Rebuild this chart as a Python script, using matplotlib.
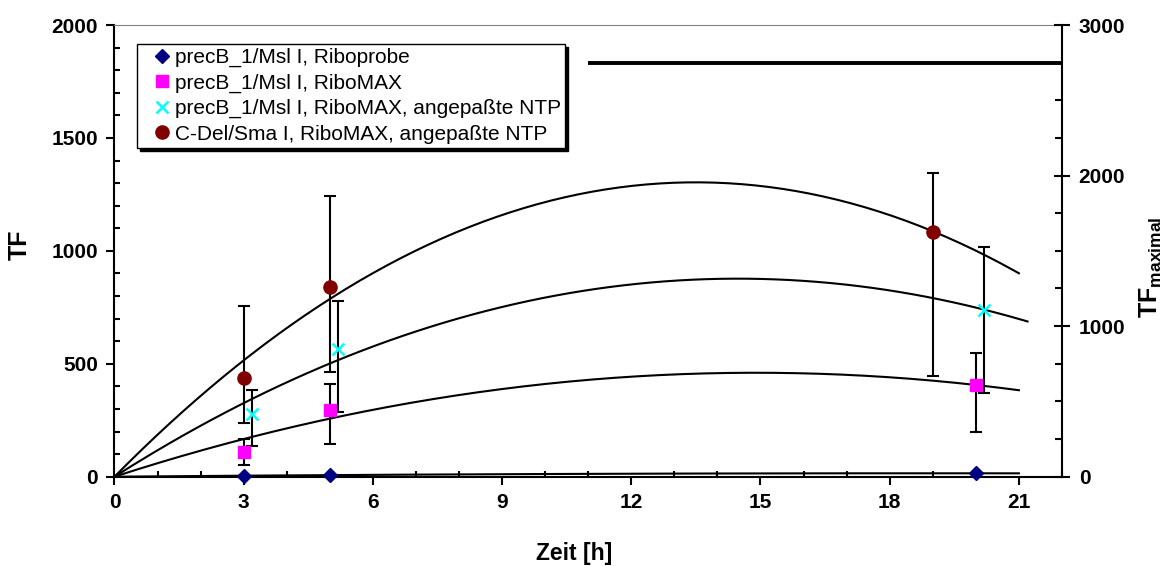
import numpy as np
import matplotlib.pyplot as plt
from matplotlib.ticker import MultipleLocator

plt.rcParams['font.family'] = ['Liberation Sans', 'DejaVu Sans']
plt.rcParams['font.weight'] = 'bold'
plt.rcParams['mathtext.fontset'] = 'custom'
plt.rcParams['mathtext.bf'] = 'Liberation Sans:bold'
plt.rcParams['mathtext.rm'] = 'Liberation Sans'

# precB_1/Msl I, Riboprobe
t_probe = [3, 5, 20]
tf_probe = [3, 8, 15]

# precB_1/Msl I, RiboMAX
t_max = [3, 5, 20]
tf_max = [111, 295, 405]
lo_max = [59, 152, 206]
hi_max = [55, 114, 143]

# precB_1/Msl I, RiboMAX, angepasste NTP
t_ntp = [3.2, 5.2, 20.2]
tf_ntp = [276, 565, 738]
lo_ntp = [139, 280, 366]
hi_ntp = [108, 213, 278]

# C-Del/Sma I, RiboMAX, angepasste NTP
t_del = [3, 5, 19]
tf_del = [436, 841, 1085]
lo_del = [197, 376, 639]
hi_del = [321, 402, 258]

# where each trendline stops (probe, max, ntp, del)
t_end = [21, 21, 21.2, 21]

# TF maximal (right axis)
tfmax_x = [11, 22]
tfmax_y = [2750, 2750]

labels = ['precB_1/Msl I, Riboprobe',
          'precB_1/Msl I, RiboMAX',
          'precB_1/Msl I, RiboMAX, angepaßte NTP',
          'C-Del/Sma I, RiboMAX, angepaßte NTP']


def trend(t, y, tend):
    # 2nd order polynomial trendline, intercept fixed at 0
    t = np.array(t, float)
    y = np.array(y, float)
    A = np.column_stack([t, t**2])
    c = np.linalg.lstsq(A, y, rcond=None)[0]
    tt = np.linspace(0, tend, 200)
    return tt, c[0]*tt + c[1]*tt**2


fig = plt.figure(figsize=(11.67, 5.66), dpi=100)
ax = fig.add_axes([0.0981, 0.1578, 0.8119, 0.798])
ax.set_xlim(0, 22)
ax.set_ylim(0, 2000)

series = [(t_probe, tf_probe), (t_max, tf_max), (t_ntp, tf_ntp), (t_del, tf_del)]
for (t, y), te in zip(series, t_end):
    tt, yy = trend(t, y, te)
    ax.plot(tt, yy, color='black', lw=1.5, zorder=2, clip_on=False)

ebk = dict(fmt='none', ecolor='black', elinewidth=1.5, capsize=4.5, capthick=1.5, zorder=3)
ax.errorbar(t_max, tf_max, yerr=[lo_max, hi_max], **ebk)
ax.errorbar(t_ntp, tf_ntp, yerr=[lo_ntp, hi_ntp], **ebk)
ax.errorbar(t_del, tf_del, yerr=[lo_del, hi_del], **ebk)

h1, = ax.plot(t_probe, tf_probe, ls='none', marker='D', ms=7, color='#000080', zorder=4, clip_on=False)
h2, = ax.plot(t_max, tf_max, ls='none', marker='s', ms=9, color='#FF00FF', zorder=4)
h3, = ax.plot(t_ntp, tf_ntp, ls='none', marker='x', ms=9, mew=1.8, color='#00FFFF', zorder=4)
h4, = ax.plot(t_del, tf_del, ls='none', marker='o', ms=9.5, color='#800000', zorder=4)

ax.xaxis.set_major_locator(MultipleLocator(3))
ax.xaxis.set_minor_locator(MultipleLocator(1))
ax.yaxis.set_major_locator(MultipleLocator(500))
ax.yaxis.set_minor_locator(MultipleLocator(100))
ax.tick_params(which='major', direction='out', length=6, width=1.5, labelsize=15, pad=6)
ax.tick_params(which='minor', direction='in', length=4, width=1.5)
ax.tick_params(top=False, right=False, which='both')

ax.spines['left'].set_linewidth(1.5)
ax.spines['bottom'].set_linewidth(1.5)
ax.spines['top'].set_color('#808080')
ax.spines['top'].set_linewidth(0.8)
ax.spines['right'].set_visible(False)

ax.set_xlabel('Zeit [h]', fontsize=16.5, fontweight='bold')
ax.set_ylabel('TF', fontsize=18, fontweight='bold')
ax.xaxis.set_label_coords(0.485, -0.145)
ax.yaxis.set_label_coords(-0.087, 0.513)

ax2 = ax.twinx()
ax2.set_ylim(0, 3000)
ax2.plot(tfmax_x, tfmax_y, color='black', lw=2.8, solid_capstyle='butt')
ax2.yaxis.set_major_locator(MultipleLocator(1000))
ax2.yaxis.set_minor_locator(MultipleLocator(250))
ax2.tick_params(which='major', direction='inout', length=12, width=1.5, labelsize=15, pad=6)
ax2.tick_params(which='minor', direction='in', length=5, width=1.5)
for s in ['left', 'top', 'bottom']:
    ax2.spines[s].set_visible(False)
ax2.spines['right'].set_linewidth(1.5)
ax2.set_ylabel(r'$\mathbf{TF}_{\mathbf{maximal}}$', fontsize=18)
ax2.yaxis.set_label_coords(1.080, 0.464)

leg = ax2.legend([h1, h2, h3, h4], labels, loc='upper left', bbox_to_anchor=(0.024, 0.958),
                 borderaxespad=0, fancybox=False, edgecolor='black', framealpha=1,
                 shadow={'color': 'black', 'alpha': 1}, handlelength=2.0, handletextpad=-0.4,
                 labelspacing=0.3, borderpad=0.2, prop={'weight': 'normal', 'size': 15})
leg.get_frame().set_linewidth(1)

fig.savefig('out.png', dpi=100)
